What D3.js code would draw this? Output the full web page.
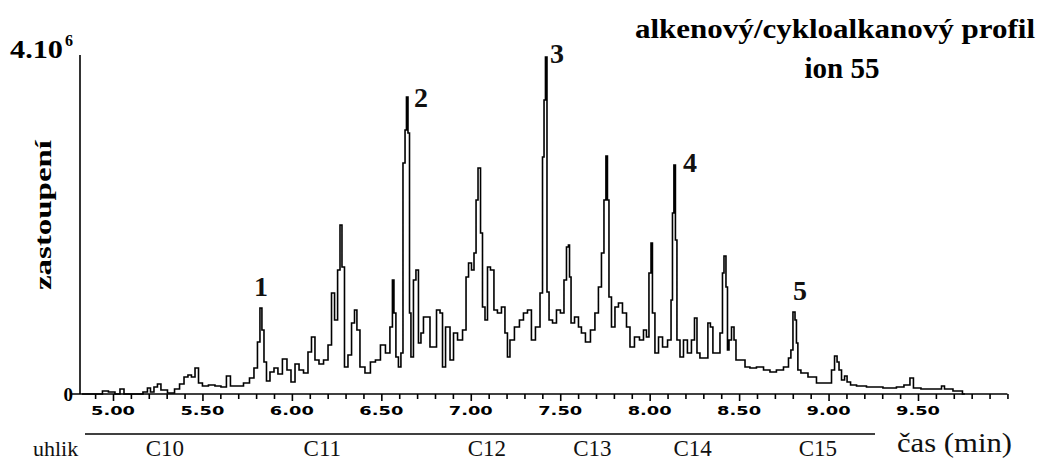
<!DOCTYPE html>
<html><head><meta charset="utf-8">
<script src="https://cdn.jsdelivr.net/npm/d3@7"></script>
<style>body{margin:0;background:#fff}svg{display:block}</style>
</head><body><svg id="c" width="1041" height="461"></svg>
<script>
// retention time (min)
const times = [4.827,4.927,4.955,4.994,5.028,5.050,5.073,5.151,5.184,5.201,5.218,5.240,5.257,5.279,5.330,5.358,5.386,5.408,5.430,5.447,5.470,5.486,5.514,5.553,5.587,5.620,5.648,5.665,5.710,5.749,5.777,5.799,5.816,5.827,5.838,5.850,5.866,5.889,5.911,5.933,5.961,5.984,6.006,6.029,6.051,6.079,6.101,6.118,6.140,6.163,6.191,6.213,6.230,6.247,6.264,6.274,6.286,6.302,6.325,6.342,6.358,6.369,6.392,6.425,6.453,6.481,6.509,6.537,6.559,6.565,6.576,6.587,6.604,6.615,6.627,6.638,6.643,6.655,6.660,6.671,6.688,6.699,6.716,6.727,6.744,6.761,6.783,6.800,6.817,6.839,6.845,6.873,6.895,6.912,6.940,6.968,6.979,6.996,7.012,7.024,7.035,7.046,7.063,7.068,7.091,7.096,7.124,7.135,7.163,7.180,7.202,7.208,7.230,7.258,7.286,7.303,7.331,7.347,7.376,7.398,7.404,7.415,7.420,7.432,7.443,7.471,7.487,7.515,7.527,7.543,7.549,7.555,7.566,7.594,7.610,7.627,7.655,7.683,7.705,7.722,7.739,7.750,7.761,7.767,7.778,7.795,7.817,7.834,7.862,7.879,7.901,7.929,7.957,7.974,7.990,8.002,8.013,8.018,8.041,8.058,8.086,8.114,8.125,8.130,8.141,8.147,8.158,8.181,8.197,8.225,8.242,8.259,8.270,8.292,8.320,8.331,8.348,8.359,8.382,8.404,8.410,8.421,8.432,8.438,8.449,8.466,8.477,8.488,8.522,8.544,8.577,8.617,8.656,8.689,8.728,8.768,8.784,8.795,8.807,8.818,8.823,8.834,8.857,8.913,8.952,9.008,9.025,9.042,9.053,9.064,9.081,9.098,9.109,9.137,9.176,9.248,9.360,9.399,9.444,9.466,9.483,9.550,9.623,9.640,9.656,9.735,9.762];
// abundance (x 10^6)
const abundance = [0,0,0.035,0.024,0,0.059,0,0,0.024,0.071,0.024,0.083,0.118,0.047,0.012,0.059,0.118,0.201,0.224,0.201,0.307,0.130,0.094,0.106,0.094,0.083,0.212,0.094,0.094,0.130,0.189,0.307,0.613,1.015,0.755,0.378,0.153,0.260,0.307,0.236,0.413,0.283,0.142,0.354,0.283,0.248,0.496,0.673,0.401,0.354,0.401,0.578,1.192,0.873,1.463,1.994,1.498,0.319,0.460,0.838,0.991,0.755,0.319,0.248,0.378,0.401,0.578,0.484,0.791,1.345,0.956,0.437,0.319,0.484,2.726,3.115,3.504,3.080,0.956,0.437,1.345,1.463,0.602,0.720,0.909,0.909,0.555,0.555,0.991,0.956,0.319,0.791,0.401,0.720,0.637,0.755,1.381,1.546,1.463,1.664,2.289,2.667,1.900,1.027,0.873,1.498,1.463,0.991,0.956,1.027,0.720,0.437,0.637,0.791,0.873,0.956,0.991,0.637,0.791,1.192,2.796,3.469,3.976,1.204,0.873,0.838,0.991,0.956,1.345,1.735,1.758,1.381,0.838,0.909,0.791,0.720,0.613,0.755,0.956,1.263,1.664,2.289,2.808,2.289,1.145,0.791,1.027,1.074,0.956,0.791,0.555,0.673,0.637,0.755,0.673,1.428,1.782,0.956,0.484,0.673,0.555,0.637,1.109,2.136,2.702,1.817,0.637,0.437,0.637,0.484,0.637,0.897,0.484,0.425,0.425,0.838,0.791,0.484,0.484,0.720,1.428,1.628,1.263,0.519,0.637,0.791,0.637,0.401,0.401,0.319,0.307,0.319,0.283,0.260,0.283,0.319,0.425,0.519,0.968,0.873,0.602,0.283,0.248,0.201,0.130,0.130,0.283,0.448,0.378,0.283,0.165,0.212,0.142,0.106,0.094,0.083,0.071,0.083,0.106,0.189,0.071,0.059,0.059,0.094,0.059,0.035,0];

const xTickValues = d3.range(49, 101).map(d => d / 10);
const xLabelValues = [5.0, 5.5, 6.0, 6.5, 7.0, 7.5, 8.0, 8.5, 9.0, 9.5];
const xLabelTexts = ["5.00","5.50","6.00","6.50","7.00","7.50","8.00","8.50","9.00","9.50"];
const carbonLabels = ["C10","C11","C12","C13","C14","C15"];
const carbonTimes = [5.29, 6.17, 7.09, 7.68, 8.24, 8.94];
const peakLabels = ["1","2","3","4","5"];
const peakTimes = [5.827, 6.643, 7.420, 8.141, 8.807];
const peakValues = [1.015, 3.504, 3.976, 2.702, 0.968];
const yMax = 4; // 4.10^6

const svg = d3.select("#c");
const x = d3.scaleLinear().domain([5.0, 9.5]).range([113, 918]);
const y = d3.scaleLinear().domain([0, yMax]).range([394, 55]);
const serif = "'Liberation Serif','Times New Roman',serif";

// axes lines
svg.append("line").attr("x1", 80).attr("x2", 80).attr("y1", y(yMax)).attr("y2", y(0))
  .attr("stroke", "#000").attr("stroke-width", 1.6);
svg.append("line").attr("x1", 72).attr("x2", x(10.0)).attr("y1", y(0)).attr("y2", y(0))
  .attr("stroke", "#000").attr("stroke-width", 1.6);

// x ticks
const ax = d3.axisBottom(x).tickValues(xTickValues).tickSize(5).tickFormat("");
const gx = svg.append("g").attr("transform", `translate(0,${y(0)})`).call(ax);
gx.select(".domain").remove();
gx.selectAll(".tick line").attr("stroke", "#000").attr("stroke-width", 1.6)
  .attr("y2", d => xLabelValues.some(v => Math.abs(v - d) < 1e-6) ? 7 : 5);

svg.append("g").selectAll("text").data(xLabelValues).join("text")
  .attr("x", d => x(d)).attr("y", 415).attr("text-anchor", "middle")
  .attr("font-family", "'DejaVu Sans',sans-serif").attr("font-weight", "bold").attr("font-size", 13)
  .attr("textLength", 44).attr("lengthAdjust", "spacingAndGlyphs")
  .text((d, i) => xLabelTexts[i]);

// zero label
svg.append("text").attr("x", 73).attr("y", 401).attr("text-anchor", "end")
  .attr("font-family", serif).attr("font-weight", "bold").attr("font-size", 19).text("0");

// 4.10^6
svg.append("text").attr("x", 10).attr("y", 58)
  .attr("font-family", serif).attr("font-weight", "bold").attr("font-size", 25)
  .attr("textLength", 53).attr("lengthAdjust", "spacingAndGlyphs").text("4.10");
svg.append("text").attr("x", 65).attr("y", 46)
  .attr("font-family", serif).attr("font-weight", "bold").attr("font-size", 16).text("6");

// y label
svg.append("text").attr("transform", "translate(51,215) rotate(-90)").attr("text-anchor", "middle")
  .attr("font-family", serif).attr("font-weight", "bold").attr("font-size", 24)
  .attr("textLength", 150).attr("lengthAdjust", "spacingAndGlyphs").text("zastoupení");

// trace
const line = d3.line().x((d, i) => x(times[i])).y((d, i) => y(abundance[i])).curve(d3.curveStep);
svg.append("path").datum(abundance).attr("d", line).attr("fill", "none")
  .attr("stroke", "#000").attr("stroke-width", 1.6).attr("stroke-linejoin", "miter");

// peak labels
const pdx = [0, 14, 11, 15, 6];
const pdy = [-12, 10, 6, 7, -12];
svg.append("g").selectAll("text").data(peakLabels).join("text")
  .attr("x", (d, i) => x(peakTimes[i]) + pdx[i])
  .attr("y", (d, i) => y(peakValues[i]) + pdy[i])
  .attr("text-anchor", "middle").attr("font-family", serif).attr("font-weight", "bold")
  .attr("font-size", 28).attr("fill", "#111").text(d => d);

// title
svg.append("text").attr("x", 835).attr("y", 38).attr("text-anchor", "middle")
  .attr("font-family", serif).attr("font-weight", "bold").attr("font-size", 28)
  .attr("textLength", 400).attr("lengthAdjust", "spacingAndGlyphs").text("alkenový/cykloalkanový profil");
svg.append("text").attr("x", 842).attr("y", 78).attr("text-anchor", "middle")
  .attr("font-family", serif).attr("font-weight", "bold").attr("font-size", 29).text("ion 55");

// carbon number band
svg.append("line").attr("x1", 85).attr("x2", 875).attr("y1", 434).attr("y2", 434)
  .attr("stroke", "#000").attr("stroke-width", 1.5);
svg.append("g").selectAll("text").data(carbonLabels).join("text")
  .attr("x", (d, i) => x(carbonTimes[i])).attr("y", 456).attr("text-anchor", "middle")
  .attr("font-family", serif).attr("font-size", 23).attr("fill", "#111").text(d => d);
svg.append("text").attr("x", 33).attr("y", 456)
  .attr("font-family", serif).attr("font-size", 22).attr("fill", "#111").text("uhlik");
svg.append("text").attr("x", 897).attr("y", 452)
  .attr("font-family", serif).attr("font-size", 28).attr("fill", "#111")
  .attr("textLength", 115).attr("lengthAdjust", "spacingAndGlyphs").text("čas (min)");
</script></body></html>
